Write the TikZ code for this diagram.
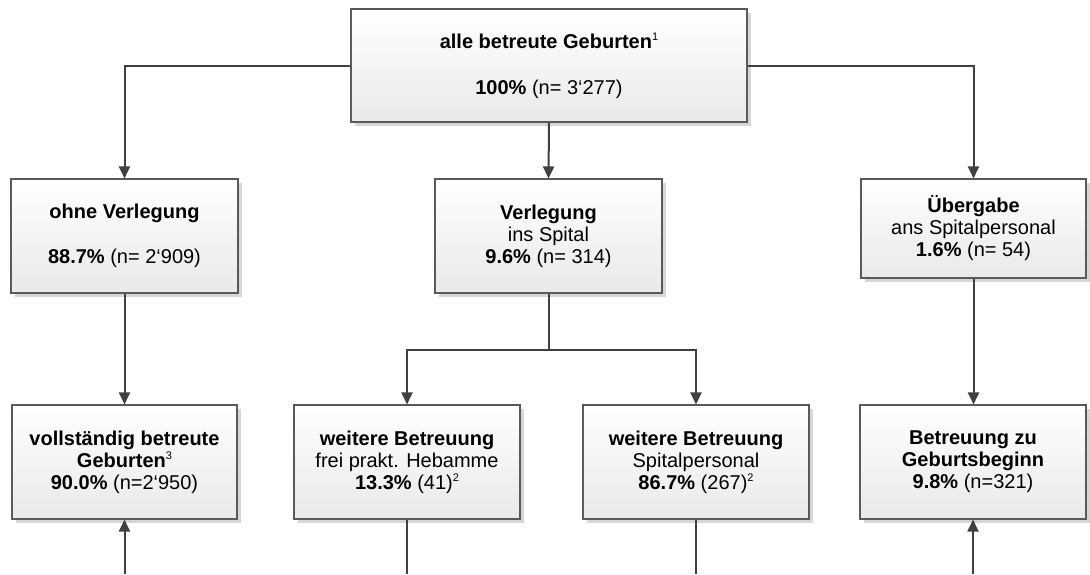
\documentclass[tikz,border=0pt]{standalone}
\usepackage{fontspec}
\setmainfont{Liberation Sans}
\usetikzlibrary{arrows.meta,shadows}
\newcommand\fnsup[1]{\raisebox{8pt}{\fontsize{11}{11}\selectfont\mdseries #1}}
\definecolor{lineclr}{HTML}{404040}
\definecolor{boxborder}{HTML}{5A5A5A}
\definecolor{boxbottom}{HTML}{E9E9E9}
\definecolor{shadowclr}{HTML}{D6D6D6}
\tikzset{
  flowbox/.style={draw=boxborder, line width=1.1pt, top color=white, bottom color=boxbottom,
    align=center, inner sep=0pt,
    font=\fontsize{20}{22}\selectfont,
    drop shadow={shadow xshift=3.5pt, shadow yshift=-3.5pt, fill=shadowclr, opacity=1}},
  conn/.style={draw=lineclr, line width=2pt, -{Triangle[length=12pt,width=11pt]}},
  plain/.style={draw=lineclr, line width=2pt}
}
\begin{document}
\begin{tikzpicture}[x=1pt,y=-1pt]
\useasboundingbox (0,0) rectangle (1090,574);
\node[flowbox, minimum width=396pt, minimum height=113pt] (top) at (549,65.5)
  {\textbf{alle betreute Geburten}\fnsup{1}\\[24pt]\textbf{100\%} (n= 3‘277)};
\node[flowbox, minimum width=227pt, minimum height=114pt] (ohne) at (124.5,236)
  {\textbf{ohne Verlegung}\\[23pt]\textbf{88.7\%} (n= 2‘909)};
\node[flowbox, minimum width=227pt, minimum height=114pt] (verl) at (548.5,236)
  {\textbf{Verlegung}\\ins Spital\\\textbf{9.6\%} (n= 314)};
\node[flowbox, minimum width=225pt, minimum height=99pt] (ueber) at (973.5,228.5)
  {\textbf{Übergabe}\\ans Spitalpersonal\\\textbf{1.6\%} (n= 54)};
\node[flowbox, minimum width=225pt, minimum height=114pt] (voll) at (124.5,462)
  {\textbf{vollständig betreute}\\\textbf{Geburten}\fnsup{3}\\\textbf{90.0\%} (n=2‘950)};
\node[flowbox, minimum width=226pt, minimum height=114pt] (frei) at (407,462)
  {\textbf{weitere Betreuung}\\frei prakt. Hebamme\\\textbf{13.3\%} (41)\fnsup{2}};
\node[flowbox, minimum width=226pt, minimum height=114pt] (spital) at (696,462)
  {\textbf{weitere Betreuung}\\Spitalpersonal\\\textbf{86.7\%} (267)\fnsup{2}};
\node[flowbox, minimum width=226pt, minimum height=114pt] (beginn) at (973,462)
  {\textbf{Betreuung zu}\\\textbf{Geburtsbeginn}\\\textbf{9.8\%} (n=321)};
\coordinate (split) at (548.5,350);
\coordinate (bvoll) at (124.5,574);
\coordinate (bfrei) at (407,574);
\coordinate (bspital) at (696,574);
\coordinate (bbeginn) at (973,574);
\draw[conn] (top.west) -| (ohne.north);
\draw[conn] (top.east) -| (ueber.north);
\draw[conn] (top.south) -- (verl.north);
\draw[conn] (ohne.south) -- (voll.north);
\draw[conn] (ueber.south) -- (ueber.south |- beginn.north);
\draw[plain] (verl.south) -- (split);
\draw[conn] (split) -| (frei.north);
\draw[conn] (split) -| (spital.north);
\draw[conn] (bvoll) -- (voll.south);
\draw[plain] (frei.south) -- (bfrei);
\draw[plain] (spital.south) -- (bspital);
\draw[conn] (bbeginn) -- (beginn.south);
\end{tikzpicture}
\end{document}
